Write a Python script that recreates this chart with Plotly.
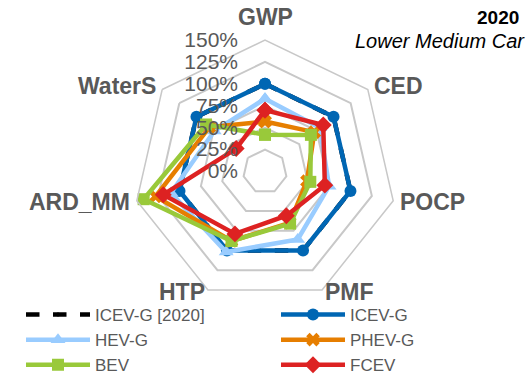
import math
import plotly.graph_objects as go

categories = ["GWP", "CED", "POCP", "PMF", "HTP", "ARD_MM", "WaterS"]
icev_2020 = [100, 100, 100, 100, 100, 100, 100]
icev_g = [100, 100, 100, 100, 100, 100, 100]
hev_g = [83, 80, 75, 86, 102, 110, 74]
phev_g = [57, 72, 49, 65, 88, 128, 81]
bev = [42, 67, 53, 66, 88, 142, 86]
fcev = [70, 85, 70, 56, 79, 119, 42]
radial_ticks = [0, 25, 50, 75, 100, 125, 150]
radial_tick_labels = ["0%", "25%", "50%", "75%", "100%", "125%", "150%"]

series = [
    ("ICEV-G [2020]", icev_2020, "#000000", "circle", "dash", 4),
    ("ICEV-G", icev_g, "#0066B3", "circle", "solid", 12),
    ("HEV-G", hev_g, "#99CCFF", "triangle-up", "solid", 13),
    ("PHEV-G", phev_g, "#E67E00", "x", "solid", 12),
    ("BEV", bev, "#99C93A", "square", "solid", 12),
    ("FCEV", fcev, "#DD2222", "diamond", "solid", 13),
]

fig = go.Figure()
for name, vals, color, sym, dash, msize in series:
    fig.add_trace(go.Scatterpolar(
        r=vals + vals[:1], theta=categories + categories[:1],
        mode="lines+markers", name=name,
        line=dict(color=color, width=4.5, dash=dash),
        marker=dict(symbol=sym, size=msize, color=color),
    ))

font_family = "Liberation Sans, Arial, sans-serif"
cx, cy, R = 265, 171.5, 131.5
W, H = 531, 383
pad = "\u00a0" * 4

# category labels placed just outside each outer vertex (Excel-style)
annotations = []
n = len(categories)
for k, name in enumerate(categories):
    ang = math.pi / 2 - 2 * math.pi * k / n
    dx, dy = math.cos(ang), math.sin(ang)
    off = 8 if k == 0 else (2 if k in (3, 4) else 5)
    px = cx + (R + off) * dx
    py = (H - cy) + (R + off) * dy
    xa = "center" if abs(dx) < 0.1 else ("left" if dx > 0 else "right")
    ya = "bottom" if k == 0 else "middle"
    annotations.append(dict(text="<b>%s</b>" % name, x=px / W, y=py / H, xref="paper", yref="paper",
                            xanchor=xa, yanchor=ya, showarrow=False,
                            font=dict(size=23, color="#595959")))

annotations += [
    dict(text="<b>2020</b>", x=521 / W, y=1 - 17 / H, xref="paper", yref="paper",
         xanchor="right", yanchor="middle", showarrow=False,
         font=dict(size=19, color="#000000")),
    dict(text="<i>Lower Medium Car</i>", x=527 / W, y=1 - 41 / H, xref="paper", yref="paper",
         xanchor="right", yanchor="middle", showarrow=False,
         font=dict(size=20, color="#000000")),
]

fig.update_layout(
    width=W, height=H,
    margin=dict(l=0, r=0, t=0, b=0),
    paper_bgcolor="white", plot_bgcolor="white",
    font=dict(family=font_family, color="#595959", size=17),
    polar=dict(
        domain=dict(x=[(cx - R) / W, (cx + R) / W], y=[(H - cy - R) / H, (H - cy + R) / H]),
        gridshape="linear",
        bgcolor="rgba(0,0,0,0)",
        radialaxis=dict(range=[0, 150], tickvals=radial_ticks,
                        ticktext=[t + pad for t in radial_tick_labels],
                        angle=90, tickangle=90, side="counterclockwise",
                        showline=False, ticks="",
                        gridcolor="#C8C8C8", gridwidth=1.5,
                        tickfont=dict(size=21, color="#595959")),
        angularaxis=dict(direction="clockwise", rotation=90, showgrid=False,
                         showline=True, linecolor="#C8C8C8", linewidth=1.5, ticks="",
                         showticklabels=False),
    ),
    legend=dict(orientation="h", x=59 / W, y=0, xanchor="left", yanchor="bottom",
                entrywidth=176, entrywidthmode="pixels", itemwidth=64,
                bgcolor="rgba(0,0,0,0)",
                font=dict(size=17, color="#595959"), tracegroupgap=0),
    showlegend=True,
    annotations=annotations,
)

fig.write_html("out.html", config={"displayModeBar": False},
               post_script="document.body.style.margin='0px';")
